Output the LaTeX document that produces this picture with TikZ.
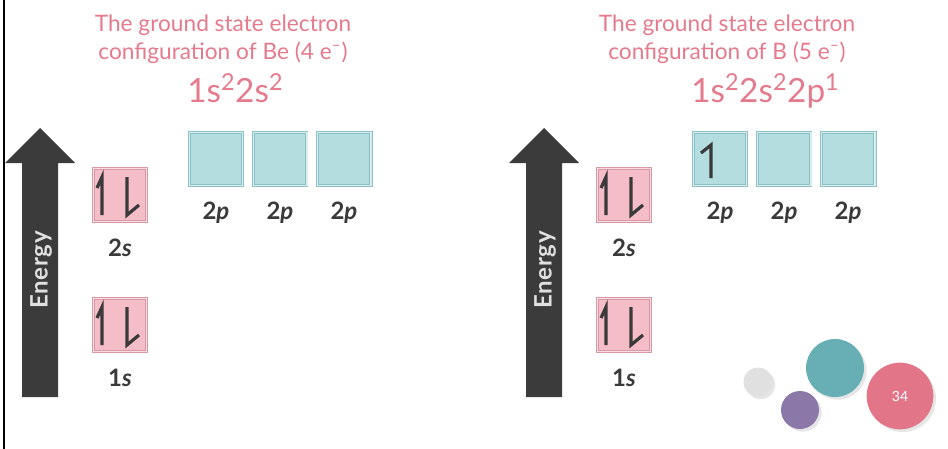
\documentclass[tikz,border=0pt]{standalone}
\usepackage{fontspec}
\setmainfont{Lato}
\usetikzlibrary{positioning,calc,shadows}

\definecolor{titlepink}{HTML}{E57A8C}
\definecolor{boxpink}{HTML}{F5BDC7}
\definecolor{edgepink}{HTML}{D99AA6}
\definecolor{lightpink}{HTML}{FBDCE2}
\definecolor{boxblue}{HTML}{B4DDE0}
\definecolor{edgeblue}{HTML}{8DBFC4}
\definecolor{lightblue}{HTML}{D8EFF1}
\definecolor{ink}{HTML}{3A3A3A}
\definecolor{arrowgray}{HTML}{3B3B3B}
\definecolor{dotgray}{HTML}{E0E0E0}
\definecolor{dotpurple}{HTML}{8B78A8}
\definecolor{dotteal}{HTML}{67AEB5}
\definecolor{dotpink}{HTML}{E37588}

% electron pair and single electron in an orbital box
\newcommand{\spinpair}[1]{%
  \draw[spin] ($(#1.center)+(-23,-7)$) -- ++(5,-11) -- ++(0,38);
  \draw[spin] ($(#1.center)+(7,-18)$) -- ++(0,38) -- ++(12,-10);}
\newcommand{\spinone}[1]{%
  \draw[spin] ($(#1.center)+(-19,-6)$) -- ++(10,-8) -- ++(0,33);}

\begin{document}
\begin{tikzpicture}[x=0.75pt,y=-0.75pt,
  title/.style={text=titlepink,align=center,font=\fontsize{17}{21}\selectfont},
  config/.style={text=titlepink,anchor=base west,inner sep=0pt,font=\fontsize{25}{30}\selectfont},
  sbox/.style={shape=rectangle,minimum size=40pt,inner sep=0pt,fill=boxpink,draw=edgepink,
    line width=0.6pt,double=lightpink,double distance=1.2pt},
  pbox/.style={shape=rectangle,minimum size=40pt,inner sep=0pt,fill=boxblue,draw=edgeblue,
    line width=0.6pt,double=lightblue,double distance=1.2pt},
  orb/.style={text=ink,inner sep=0pt,font=\fontsize{18}{21}\selectfont\bfseries},
  energy/.style={text=white!88!black,rotate=90,inner sep=0pt,
    font=\fontsize{18}{20}\selectfont\bfseries\addfontfeature{LetterSpace=3}},
  spin/.style={draw=ink,line width=2.4pt},
  dot/.style={shape=circle,inner sep=0pt,drop shadow={opacity=0.2,shadow xshift=2pt,shadow yshift=-2pt}}]

\useasboundingbox (0,0) rectangle (948,449);
\draw[line width=2.2pt] (4,0) -- (4,449);

% Be
\node[title] (tBe) at (223,39) {The ground state electron\\configuration of Be (4 e\textsuperscript{--})};
\node[config] (cBe) at (187,103) {1s\textsuperscript{2}2s\textsuperscript{2}};
\fill[arrowgray] (22,397) -- (22,163) -- (5,163) -- (40,128) -- (75,163) -- (58,163) -- (58,397) -- cycle;
\node[energy] (eBe) at (41,270) {Energy};
\node[sbox] (s2Be) at (120,195) {};
\node[sbox] (s1Be) at (120,325) {};
\node[orb] (l2Be) at (120,248) {2\textit{s}};
\node[orb] (l1Be) at (120,378) {1\textit{s}};
\node[pbox] (pxBe) at (216,159) {};
\node[pbox,right=7.5pt of pxBe] (pyBe) {};
\node[pbox,right=7.5pt of pyBe] (pzBe) {};
\node[orb] at (216,213) {2\textit{p}};
\node[orb] at (280,213) {2\textit{p}};
\node[orb] at (344,213) {2\textit{p}};
\spinpair{s2Be}
\spinpair{s1Be}

% B
\begin{scope}[xshift=378pt]
\node[title] (tB) at (223,39) {The ground state electron\\configuration of B (5 e\textsuperscript{--})};
\node[config] (cB) at (187,103) {1s\textsuperscript{2}2s\textsuperscript{2}2p\textsuperscript{1}};
\fill[arrowgray] (22,397) -- (22,163) -- (5,163) -- (40,128) -- (75,163) -- (58,163) -- (58,397) -- cycle;
\node[energy] (eB) at (41,270) {Energy};
\node[sbox] (s2B) at (120,195) {};
\node[sbox] (s1B) at (120,325) {};
\node[orb] (l2B) at (120,248) {2\textit{s}};
\node[orb] (l1B) at (120,378) {1\textit{s}};
\node[pbox] (pxB) at (216,159) {};
\node[pbox,right=7.5pt of pxB] (pyB) {};
\node[pbox,right=7.5pt of pyB] (pzB) {};
\node[orb] at (216,213) {2\textit{p}};
\node[orb] at (280,213) {2\textit{p}};
\node[orb] at (344,213) {2\textit{p}};
\spinpair{s2B}
\spinpair{s1B}
\spinone{pxB}
\end{scope}

% page bubbles
\node[dot,fill=dotgray,minimum size=21.75pt] (d1) at (758,382) {};
\node[dot,fill=dotpurple,minimum size=28.5pt] (d2) at (800,410) {};
\node[dot,fill=dotteal,minimum size=43.5pt] (d3) at (835,368) {};
\node[dot,fill=dotpink,minimum size=50pt,text=white,font=\fontsize{10.5}{12}\selectfont] (d4) at (900,396) {34};
\end{tikzpicture}
\end{document}
